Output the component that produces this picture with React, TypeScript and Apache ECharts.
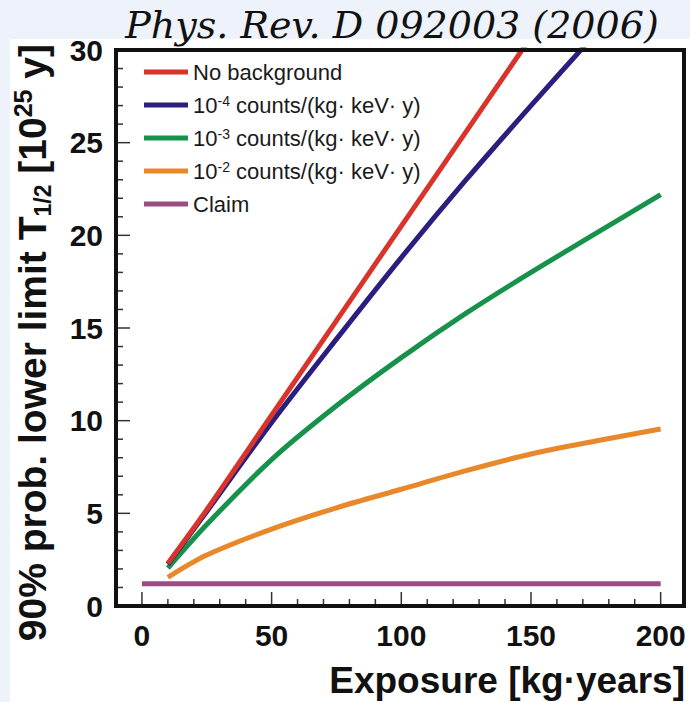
import React, { useEffect, useRef } from "react";
import * as echarts from "echarts";

// Exposure [kg·years] sample points for each curve
const xNoBkg = [10, 25, 50, 75, 100, 125, 150];
const yNoBkg = [2.3, 5.2, 10.3, 15.4, 20.5, 25.6, 30.7];

const xBkg4 = [10, 25, 50, 75, 100, 125, 150, 175];
const yBkg4 = [2.25, 5.1, 9.9, 14.4, 18.8, 23.0, 27.0, 30.9];

const xBkg3 = [10, 25, 50, 75, 100, 125, 150, 175, 200];
const yBkg3 = [2.05, 4.4, 7.9, 10.8, 13.4, 15.8, 18.0, 20.1, 22.2];

const xBkg2 = [10, 25, 50, 75, 100, 125, 150, 175, 200];
const yBkg2 = [1.55, 2.75, 4.15, 5.3, 6.3, 7.3, 8.2, 8.9, 9.55];

const xClaim = [0, 200];
const yClaim = [1.2, 1.2];

const seriesNames = [
  "No background",
  "10^-4 counts/(kg· keV· y)",
  "10^-3 counts/(kg· keV· y)",
  "10^-2 counts/(kg· keV· y)",
  "Claim",
];
const legendLabels = [
  "No background",
  "10{sup|-4} counts/(kg· keV· y)",
  "10{sup|-3} counts/(kg· keV· y)",
  "10{sup|-2} counts/(kg· keV· y)",
  "Claim",
];
const colors = ["#d8342b", "#2a1f7e", "#16924a", "#e8882a", "#9a4d84"];

// axis ranges and ticks
const xRange = [-10, 209];
const xTicks = [0, 50, 100, 150, 200];
const xMinorTicks = [10, 20, 30, 40, 60, 70, 80, 90, 110, 120, 130, 140, 160, 170, 180, 190];
const yRange = [0, 30];
const yTicks = [0, 5, 10, 15, 20, 25, 30];
const yMinorTicks = [1, 2, 3, 4, 6, 7, 8, 9, 11, 12, 13, 14, 16, 17, 18, 19, 21, 22, 23, 24, 26, 27, 28, 29];

const titleText = "Phys. Rev. D 092003 (2006)";
const xTitle = "Exposure [kg·years]";
const yTitle = "90% prob. lower limit T{sub|1/2} [10{sup|25} y]";

const pairs = (xs: number[], ys: number[]) => xs.map((x, i) => [x, ys[i]]);

const SANS = "'Liberation Sans', Arial, Helvetica, sans-serif";

const labelStyle = { color: "#111", fontSize: 30, fontWeight: "bold", fontFamily: SANS };

const MAJOR = 14;
const MINOR = 7;
const TICK_COLOR = "#333";

export default function App() {
  const ref = useRef<HTMLDivElement>(null);
  useEffect(() => {
    if (!ref.current) return;
    const chart = echarts.init(ref.current, null, { renderer: "svg" });
    const data = [
      pairs(xNoBkg, yNoBkg),
      pairs(xBkg4, yBkg4),
      pairs(xBkg3, yBkg3),
      pairs(xBkg2, yBkg2),
      pairs(xClaim, yClaim),
    ];
    // tick marks: [value on x, value on y, major?] — the mark sits on the axis edge
    const tickData = [
      ...xTicks.map((v) => [v, yRange[0], 1]),
      ...xMinorTicks.map((v) => [v, yRange[0], 0]),
    ];
    const yTickData = [
      ...yTicks.slice(1, -1).map((v) => [xRange[0], v, 1]),
      ...yMinorTicks.map((v) => [xRange[0], v, 0]),
    ];
    const option: any = {
      animation: false,
      backgroundColor: "#ffffff",
      grid: { left: 116, right: 6, top: 50, bottom: 96, containLabel: false },
      xAxis: {
        type: "value",
        position: "bottom",
        min: xRange[0],
        max: xRange[1],
        axisLine: { show: false, onZero: false },
        splitLine: { show: false },
        axisTick: { show: false },
        axisLabel: { ...labelStyle, margin: 14, customValues: xTicks },
      },
      yAxis: {
        type: "value",
        position: "left",
        min: yRange[0],
        max: yRange[1],
        axisLine: { show: false, onZero: false },
        splitLine: { show: false },
        axisTick: { show: false },
        axisLabel: { ...labelStyle, margin: 13, customValues: yTicks },
      },
      legend: {
        orient: "vertical",
        left: 139,
        top: 56,
        icon: "rect",
        itemWidth: 44,
        itemHeight: 5,
        itemGap: 11,
        data: seriesNames,
        formatter: (name: string) => legendLabels[seriesNames.indexOf(name)],
        textStyle: {
          color: "#1a1a1a",
          fontSize: 22,
          lineHeight: 22,
          fontFamily: SANS,
          rich: {
            sup: { fontSize: 14, lineHeight: 13, verticalAlign: "top", fontFamily: SANS, color: "#1a1a1a" },
          },
        },
      },
      series: [
        ...data.map((d, i) => ({
          name: seriesNames[i],
          type: "line",
          data: d,
          smooth: i === 4 ? false : 0.3,
          showSymbol: false,
          symbol: "none",
          clip: true,
          color: colors[i],
          lineStyle: { color: colors[i], width: 5 },
          z: 5 - i,
        })),
        {
          name: "x ticks",
          type: "custom",
          silent: true,
          clip: false,
          z: 50,
          data: tickData,
          renderItem: (_params: any, api: any) => {
            const p = api.coord([api.value(0), api.value(1)]);
            const len = api.value(2) ? MAJOR : MINOR;
            return {
              type: "line",
              shape: { x1: p[0], y1: p[1], x2: p[0], y2: p[1] - len },
              style: { stroke: TICK_COLOR, lineWidth: 1.5 },
            };
          },
        },
        {
          name: "y ticks",
          type: "custom",
          silent: true,
          clip: false,
          z: 50,
          data: yTickData,
          renderItem: (_params: any, api: any) => {
            const p = api.coord([api.value(0), api.value(1)]);
            const len = api.value(2) ? MAJOR : MINOR;
            return {
              type: "line",
              shape: { x1: p[0], y1: p[1], x2: p[0] + len, y2: p[1] },
              style: { stroke: TICK_COLOR, lineWidth: 1.5 },
            };
          },
        },
      ],
      graphic: [
        { type: "rect", shape: { x: 0, y: 0, width: 690, height: 39 }, style: { fill: "#eef2fb" }, silent: true },
        { type: "rect", shape: { x: 0, y: 0, width: 10, height: 702 }, style: { fill: "#eef2fb" }, silent: true },
        {
          type: "rect",
          shape: { x: 116, y: 50, width: 568, height: 556 },
          style: { fill: "none", stroke: "#111", lineWidth: 4 },
          z: 100,
          silent: true,
        },
        {
          type: "text",
          x: 392,
          y: 25,
          style: {
            text: titleText,
            fontFamily: "'DejaVu Serif', serif",
            fontStyle: "italic",
            fontSize: 38,
            fill: "#111",
            textAlign: "center",
            textVerticalAlign: "middle",
          },
          z: 100,
        },
        {
          type: "text",
          x: 685,
          y: 680,
          style: {
            text: xTitle,
            fontFamily: SANS,
            fontWeight: "bold",
            fontSize: 37,
            fill: "#111",
            textAlign: "right",
            textVerticalAlign: "middle",
          },
          z: 100,
        },
        {
          type: "text",
          x: 32,
          y: 44,
          rotation: Math.PI / 2,
          style: {
            text: yTitle,
            fontFamily: SANS,
            fontWeight: "bold",
            fontSize: 39,
            lineHeight: 44,
            fill: "#111",
            textAlign: "right",
            textVerticalAlign: "middle",
            rich: {
              sup: { fontSize: 25, lineHeight: 24, verticalAlign: "top", fontWeight: "bold", fontFamily: SANS, fill: "#111" },
              sub: { fontSize: 23, lineHeight: 22, verticalAlign: "bottom", fontWeight: "bold", fontFamily: SANS, fill: "#111" },
            },
          },
          z: 100,
        },
      ],
    };
    chart.setOption(option);
    return () => chart.dispose();
  }, []);
  return (
    <div style={{ position: "fixed", left: 0, top: 0, width: 690, height: 702, background: "#eef2fb" }}>
      <div ref={ref} style={{ width: 690, height: 702 }} />
    </div>
  );
}
